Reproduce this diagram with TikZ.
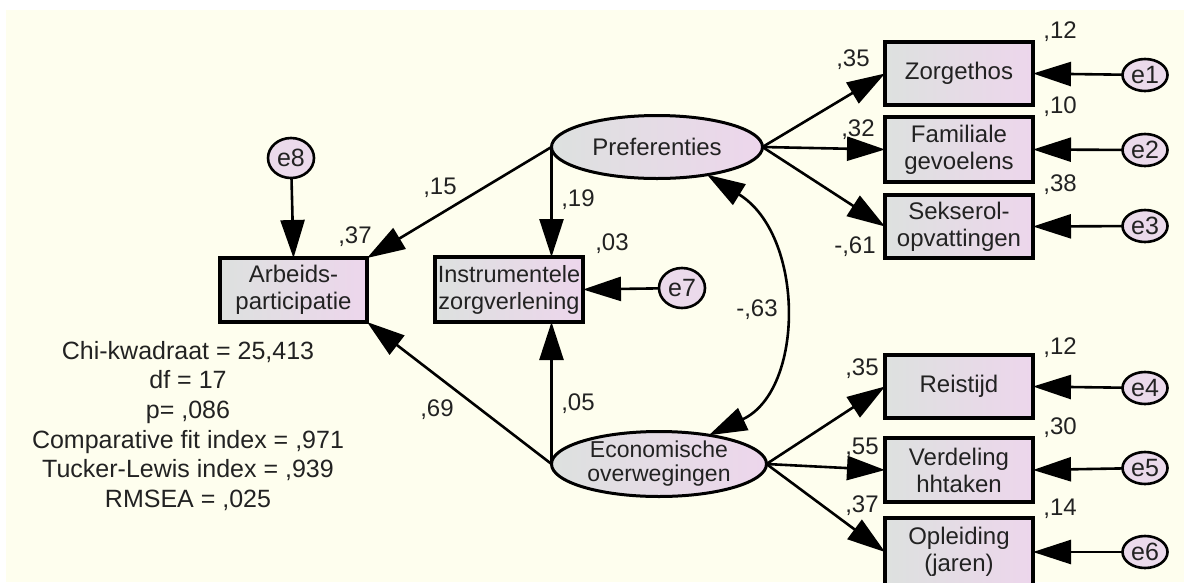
\documentclass[tikz,border=0pt]{standalone}
\usepackage{fontspec}
\setmainfont{Liberation Sans}
\usetikzlibrary{shapes.geometric,arrows.meta}
\definecolor{bgc}{HTML}{FEFEEE}
\definecolor{lc}{HTML}{DDE1DF}
\definecolor{rc}{HTML}{EDD6EC}
\definecolor{errc}{HTML}{EBDAEB}
\definecolor{txt}{HTML}{222222}
\begin{document}
\begin{tikzpicture}[x=1pt,y=-1pt,
  obs/.style={rectangle, draw=black, line width=3.2pt, left color=lc, right color=rc,
    inner sep=0pt, outer sep=0pt, minimum width=148pt, align=center, text=txt,
    font=\fontsize{24}{27}\selectfont},
  lat/.style={ellipse, draw=black, line width=3pt, left color=lc, right color=rc,
    inner sep=0pt, outer sep=0pt, align=center, text=txt},
  err/.style={ellipse, draw=black, line width=2.6pt, fill=errc, inner sep=0pt, outer sep=0pt,
    minimum width=45pt, minimum height=32pt, text=txt, font=\fontsize{25}{25}\selectfont},
  errb/.style={err, minimum width=46pt, minimum height=40pt},
  pth/.style={line width=2.6pt, -{Triangle[length=38pt,width=24pt]}},
  cov/.style={line width=2.6pt, {Triangle[length=38pt,width=24pt]}-{Triangle[length=38pt,width=24pt]}},
  lbl/.style={font=\fontsize{24}{24}\selectfont, text=txt, inner sep=0pt},
  fit/.style={font=\fontsize{25}{29.6}\selectfont, text=txt, inner sep=0pt, align=center}
]
\useasboundingbox (0,0) rectangle (1184,582);
\fill[white] (0,0) rectangle (1184,582);
\fill[bgc] (6,10) rectangle (1184,582);

% latent variables
\node[lat, minimum width=211pt, minimum height=63pt, font=\fontsize{24}{24}\selectfont] (pref) at (657,147) {Preferenties};
\node[lat, minimum width=215pt, minimum height=65pt, font=\fontsize{23}{24}\selectfont] (econ) at (659,464) {Economische\\overwegingen};

% observed variables
\node[obs, minimum height=63pt] (zorg) at (959,73.5) {Zorgethos};
\node[obs, minimum height=65pt] (fam) at (959,149.5) {Familiale\\gevoelens};
\node[obs, minimum height=63pt] (seks) at (959,226.5) {Sekserol-\\opvattingen};
\node[obs, minimum height=63pt] (reis) at (959,386.5) {Reistijd};
\node[obs, minimum height=64pt] (verd) at (959,470) {Verdeling\\hhtaken};
\node[obs, minimum height=68pt] (opl) at (959,552) {Opleiding\\(jaren)};
\node[obs, minimum width=147pt, minimum height=64pt] (arb) at (293.5,290) {Arbeids-\\participatie};
\node[obs, minimum height=65pt, font=\fontsize{23.5}{27}\selectfont] (instr) at (509,289.5) {Instrumentele\\zorgverlening};

% error terms
\node[err] (e1) at (1145,75) {e1};
\node[err] (e2) at (1145,150) {e2};
\node[err] (e3) at (1145,226) {e3};
\node[err] (e4) at (1145,388) {e4};
\node[err] (e5) at (1145,468) {e5};
\node[err] (e6) at (1145,552) {e6};
\node[errb] (e7) at (682,288) {e7};
\node[errb] (e8) at (291,158) {e8};

% paths
\draw[pth] (pref.east) -- (zorg.west);
\draw[pth] (pref.east) -- (fam.west);
\draw[pth] (pref.east) -- (seks.west);
\draw[pth] (econ.east) -- (reis.west);
\draw[pth] (econ.east) -- (verd.west);
\draw[pth] (econ.east) -- (opl.west);
\draw[pth] (pref.west) -- (arb.north east);
\draw[pth] (pref.west) -- (pref.west |- instr.north);
\draw[pth] (econ.west) -- (arb.south east);
\draw[pth] (econ.west) -- (econ.west |- instr.south);
\draw[pth] (e1) -- (zorg.east);
\draw[pth] (e2) -- (fam.east);
\draw[pth] (e3) -- (seks.east);
\draw[pth] (e4) -- (reis.east);
\draw[pth] (e5) -- (verd.east);
\draw[pth] (e6) -- (opl.east);
\draw[pth] (e7) -- (instr.east);
\draw[pth] (e8) -- (arb.north);
\draw[cov] (pref.-29) .. controls (805,235) and (805,390) .. (econ.30);

% labels
\node[lbl] (l15) at (440,188) {,15};
\node[lbl] (l19) at (578,200) {,19};
\node[lbl] (l37) at (355,237) {,37};
\node[lbl] (l03) at (612,244) {,03};
\node[lbl] (l05) at (578,404) {,05};
\node[lbl] (l69) at (437,410) {,69};
\node[lbl] (l63) at (757,310) {-,63};
\node[lbl] (l35a) at (853,60) {,35};
\node[lbl] (l12a) at (1060,32) {,12};
\node[lbl] (l32) at (858,130) {,32};
\node[lbl] (l10) at (1060,107) {,10};
\node[lbl] (l38) at (1060,185) {,38};
\node[lbl] (l61) at (855,247) {-,61};
\node[lbl] (l35b) at (862,369) {,35};
\node[lbl] (l12b) at (1060,348) {,12};
\node[lbl] (l55) at (862,448) {,55};
\node[lbl] (l30) at (1060,428) {,30};
\node[lbl] (l37b) at (862,506) {,37};
\node[lbl] (l14) at (1060,509) {,14};

% fit statistics
\node[fit, anchor=north] (stats) at (188,341) {Chi-kwadraat = 25,413\\df = 17\\p= ,086\\Comparative fit index = ,971\\Tucker-Lewis index = ,939\\RMSEA = ,025};
\end{tikzpicture}
\end{document}
